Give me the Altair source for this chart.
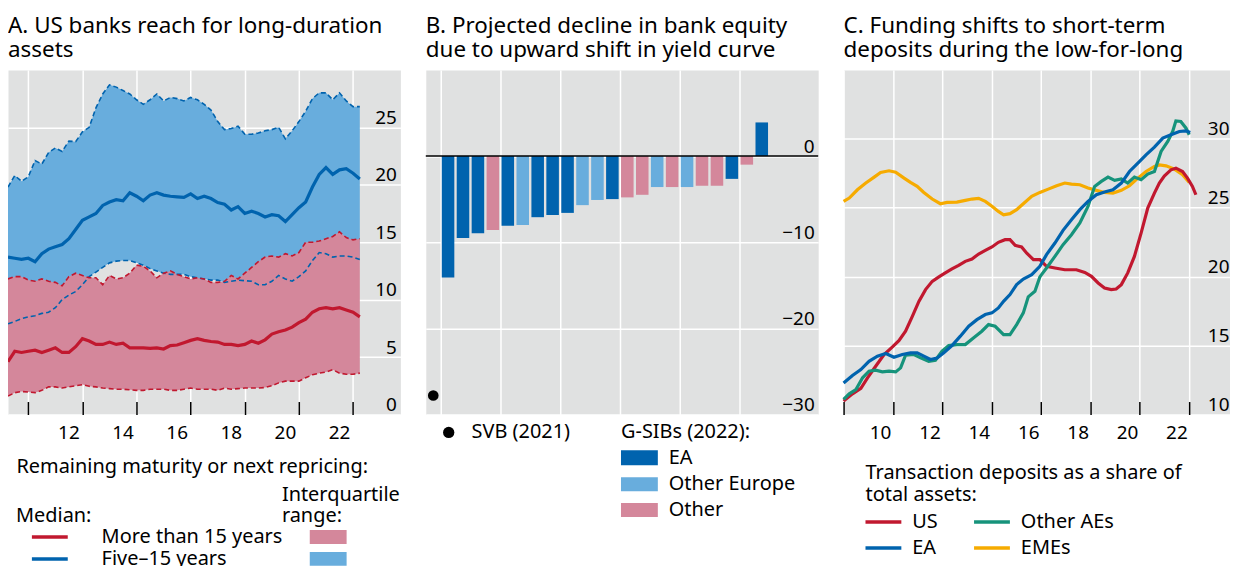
import altair as alt
import pandas as pd

FONT = "Noto Sans"
BG = "#e0e1e1"
DARK_BLUE = "#0063ae"
LIGHT_BLUE = "#68addd"
RED = "#c1182f"
PINK = "#d4879b"
TEAL = "#16937b"
ORANGE = "#f6ab00"

# ---------------- Panel A data (quarterly, 2010Q2-2023Q2) ----------------
a_quarters = [2010.25 + 0.25 * k for k in range(53)]
a_mid_hi = [19.8, 20.8, 20.3, 20.7, 22.1, 21.8, 22.8, 23.2, 22.9, 23.8, 23.75, 24.6, 25.0, 26.7, 27.9, 28.7,
            28.5, 28.2, 27.9, 27.4, 27.0, 27.4, 27.9, 27.3, 27.6, 27.5, 27.3, 27.6, 27.4, 27.0, 26.5, 25.5,
            24.8, 24.9, 25.1, 24.4, 24.4, 24.5, 24.7, 24.8, 25.0, 24.0, 24.7, 25.5, 26.4, 27.5, 28.0, 28.0,
            27.4, 28.0, 27.3, 26.8, 26.8]
a_mid_lo = [7.9, 8.1, 8.35, 8.5, 8.6, 8.8, 8.9, 9.3, 10.0, 10.4, 10.7, 11.3, 12.0, 12.4, 12.8, 13.2,
            13.35, 13.4, 13.4, 13.2, 13.0, 12.7, 12.5, 12.3, 12.2, 12.2, 12.2, 12.0, 11.9, 11.8, 11.7, 11.7,
            11.5, 11.6, 11.7, 11.65, 11.6, 11.3, 11.3, 11.6, 12.1, 11.8, 11.6, 12.0, 12.5, 13.4, 14.1, 14.0,
            13.7, 13.8, 13.8, 13.7, 13.5]
a_mid_med = [13.7, 13.6, 13.5, 13.6, 13.3, 14.0, 14.4, 14.6, 14.8, 15.3, 16.1, 16.9, 17.2, 17.5, 18.2, 18.5,
             18.7, 18.6, 19.3, 19.0, 18.6, 19.1, 19.3, 19.1, 19.0, 18.95, 18.9, 19.2, 18.8, 19.0, 18.8, 18.45,
             18.3, 17.8, 18.1, 17.5, 17.7, 17.5, 17.2, 17.4, 17.3, 16.8, 17.4, 18.0, 18.5, 19.8, 20.9, 21.5,
             20.9, 21.3, 21.4, 21.0, 20.5]
a_long_hi = [11.8, 12.0, 12.0, 11.7, 11.6, 11.8, 11.6, 11.5, 11.2, 12.0, 12.3, 12.1, 11.9, 11.9, 11.3, 12.1,
             11.8, 11.9, 12.3, 13.0, 12.9, 12.5, 11.9, 12.3, 12.5, 12.2, 12.0, 11.8, 11.9, 11.8, 11.5, 11.5,
             11.6, 12.1, 11.8, 12.3, 12.8, 13.3, 13.7, 13.8, 13.7, 14.0, 13.8, 14.1, 15.0, 15.0, 15.1, 15.3,
             15.5, 15.9, 15.4, 15.2, 15.3]
a_long_lo = [1.6, 1.9, 2.0, 1.95, 1.9, 2.1, 2.4, 2.4, 2.3, 2.4, 2.5, 2.6, 2.45, 2.4, 2.3, 2.25,
             2.2, 2.2, 2.15, 2.1, 2.1, 2.2, 2.2, 2.2, 2.1, 2.1, 2.2, 2.3, 2.2, 2.2, 2.2, 2.1,
             2.3, 2.2, 2.25, 2.3, 2.3, 2.3, 2.35, 2.5, 2.75, 2.9, 2.9, 2.9, 3.2, 3.45, 3.6, 3.7,
             3.9, 3.6, 3.5, 3.5, 3.6]
a_long_med = [4.6, 5.5, 5.4, 5.5, 5.6, 5.4, 5.6, 5.8, 5.4, 5.4, 5.9, 6.6, 6.4, 6.1, 6.1, 6.3,
              6.1, 6.2, 5.8, 5.8, 5.8, 5.75, 5.8, 5.7, 6.0, 6.05, 6.25, 6.45, 6.6, 6.45, 6.35, 6.3,
              6.1, 6.1, 6.0, 6.1, 6.4, 6.2, 6.5, 7.0, 7.2, 7.35, 7.6, 8.0, 8.3, 8.9, 9.2, 9.3,
              9.2, 9.3, 9.1, 8.9, 8.5]
a_ticks = [0, 5, 10, 15, 20, 25]
a_label_years = [2012, 2014, 2016, 2018, 2020, 2022]

# ---------------- Panel B data ----------------
b_values = [-14.1, -9.5, -8.95, -8.6, -8.1, -8.0, -7.1, -6.85, -6.6, -5.7, -5.1, -5.0, -4.8, -4.5,
            -3.6, -3.6, -3.6, -3.45, -3.45, -2.65, -1.0, 3.9]
b_regions = ["EA", "EA", "EA", "Other", "EA", "Other Europe", "EA", "EA", "EA", "Other Europe",
             "Other Europe", "EA", "Other", "Other", "Other Europe", "Other", "Other Europe", "Other",
             "Other", "EA", "Other", "EA"]
b_region_names = ["EA", "Other Europe", "Other"]
b_svb = -27.8
b_ticks = [-30, -20, -10, 0]

# ---------------- Panel C data ----------------
c_us_t = [2009.00, 2009.36, 2009.70, 2009.97, 2010.30, 2010.64, 2010.98, 2011.24, 2011.51, 2011.78, 2012.05,
          2012.32, 2012.59, 2012.86, 2013.12, 2013.39, 2013.66, 2013.93, 2014.20, 2014.47, 2014.74, 2015.01,
          2015.27, 2015.54, 2015.74, 2015.95, 2016.21, 2016.42, 2016.69, 2016.95, 2017.22, 2017.56, 2017.96,
          2018.43, 2018.77, 2019.04, 2019.31, 2019.57, 2019.84, 2020.04, 2020.25, 2020.51, 2020.78, 2021.05,
          2021.32, 2021.59, 2021.79, 2021.99, 2022.26, 2022.46, 2022.73, 2022.93, 2023.13, 2023.27]
c_us = [10.97, 11.5, 11.9, 12.66, 13.5, 14.35, 14.9, 15.36, 16.04, 17.1, 18.2,
        19.06, 19.66, 19.98, 20.27, 20.56, 20.82, 21.11, 21.28, 21.64, 21.9, 22.15,
        22.49, 22.68, 22.68, 22.27, 22.15, 21.7, 21.23, 21.23, 20.75, 20.63, 20.5,
        20.5, 20.31, 20.02, 19.54, 19.18, 19.06, 19.1, 19.42, 20.27, 21.47, 23.16,
        24.98, 26.06, 26.79, 27.3, 27.75, 27.87, 27.63, 27.15, 26.55, 25.94]
c_ea_t = [2009.00, 2009.36, 2009.70, 2010.03, 2010.37, 2010.71, 2011.04, 2011.38, 2011.71, 2011.98, 2012.25,
          2012.52, 2012.79, 2013.06, 2013.39, 2013.73, 2014.07, 2014.40, 2014.74, 2015.01, 2015.27, 2015.48,
          2015.74, 2016.01, 2016.28, 2016.62, 2016.95, 2017.22, 2017.56, 2017.89, 2018.23, 2018.57, 2018.90,
          2019.24, 2019.57, 2019.91, 2020.25, 2020.58, 2020.92, 2021.25, 2021.59, 2021.93, 2022.26, 2022.60,
          2022.87, 2023.04]
c_ea = [12.29, 12.83, 13.26, 13.86, 14.23, 14.42, 14.15, 14.35, 14.47, 14.47, 14.23,
        13.99, 14.1, 14.47, 15.0, 15.68, 16.4, 16.88, 17.25, 17.37, 17.73, 18.21,
        18.7, 19.42, 19.83, 20.14, 20.75, 21.6, 22.44, 23.36, 24.13, 24.86, 25.46,
        25.94, 26.14, 26.3, 26.79, 27.63, 28.24, 28.84, 29.4, 30.05, 30.29, 30.53,
        30.58, 30.46]
c_ae_t = [2009.00, 2009.23, 2009.50, 2009.77, 2010.03, 2010.30, 2010.57, 2010.84, 2011.11, 2011.31, 2011.51,
          2011.85, 2012.12, 2012.45, 2012.72, 2012.99, 2013.26, 2013.59, 2013.93, 2014.27, 2014.60, 2014.87,
          2015.14, 2015.48, 2015.74, 2016.01, 2016.28, 2016.48, 2016.75, 2016.95, 2017.22, 2017.56, 2017.89,
          2018.23, 2018.57, 2018.90, 2019.17, 2019.44, 2019.71, 2019.98, 2020.25, 2020.51, 2020.78, 2021.05,
          2021.32, 2021.59, 2021.86, 2022.13, 2022.33, 2022.46, 2022.66, 2022.87, 2023.00]
c_ae = [11.09, 11.5, 11.81, 12.66, 13.14, 13.21, 13.09, 13.14, 13.09, 13.38, 14.3,
        14.35, 14.11, 13.86, 13.94, 14.59, 15.0, 15.07, 15.07, 15.56, 16.04, 16.52,
        16.4, 15.8, 15.8, 16.52, 17.37, 18.53, 18.94, 19.98, 20.63, 21.47, 22.32,
        23.04, 23.89, 25.1, 26.55, 26.91, 27.22, 26.98, 27.08, 26.79, 27.22, 27.03,
        27.44, 27.63, 29.08, 29.81, 30.53, 31.3, 31.26, 30.77, 30.29]
c_eme_t = [2009.00, 2009.23, 2009.56, 2009.90, 2010.24, 2010.50, 2010.84, 2011.11, 2011.45, 2011.71, 2011.98,
           2012.25, 2012.59, 2012.92, 2013.19, 2013.59, 2013.93, 2014.20, 2014.47, 2014.74, 2015.01, 2015.27,
           2015.48, 2015.74, 2016.01, 2016.28, 2016.62, 2016.95, 2017.29, 2017.63, 2017.96, 2018.23, 2018.57,
           2018.90, 2019.24, 2019.57, 2019.91, 2020.25, 2020.58, 2020.92, 2021.25, 2021.59, 2021.79, 2022.06,
           2022.40, 2022.73, 2023.00]
c_eme = [25.46, 25.7, 26.3, 26.79, 27.22, 27.56, 27.68, 27.58, 27.15, 26.84, 26.55,
         26.11, 25.63, 25.29, 25.39, 25.41, 25.53, 25.63, 25.68, 25.46, 25.1, 24.73,
         24.49, 24.57, 24.86, 25.29, 25.82, 26.11, 26.35, 26.59, 26.79, 26.71, 26.67,
         26.43, 26.26, 26.11, 26.06, 26.26, 26.59, 27.15, 27.63, 28.0, 28.1, 28.04,
         27.8, 27.39, 26.84]
c_ticks = [10, 15, 20, 25, 30]
c_label_years = [2010, 2012, 2014, 2016, 2018, 2020, 2022]

# ---------------- Layout constants ----------------
H = 346
W_A, W_B, W_C = 394, 394, 389
LABEL_SIZE = 19
LEGEND_SIZE = 20
TITLE_SIZE = 22.5
ONE = pd.DataFrame({"k": [0]})


def year_axis(first, last):
    return alt.Axis(
        values=list(range(first, last + 1)), labels=False,
        tickSize=13, tickColor="black", tickWidth=1.5, offset=-13, domain=False,
        minExtent=0, maxExtent=0,
        grid=True, gridWidth=1.5,
        gridColor={"condition": {"test": "datum.value % 2 == 1", "value": "white"}, "value": "transparent"},
        title=None)


def year_labels(years):
    df = pd.DataFrame({"pos": [y + 0.5 for y in years], "lab": [str(y)[2:] for y in years]})
    return alt.Chart(df).mark_text(font=FONT, fontSize=LABEL_SIZE, color="black", baseline="middle",
                                   align="center").encode(
        x=alt.X("pos:Q", title=None), y=alt.value(365), text="lab:N")


def value_axis(vals, pad=-4):
    return alt.Axis(
        orient="right", values=vals, labelAlign="right", labelBaseline="bottom",
        labelPadding=pad, ticks=False, tickSize=0, domain=False, grid=True,
        minExtent=0, maxExtent=0,
        gridColor="white", gridWidth=1.5, labelFont=FONT, labelFontSize=LABEL_SIZE,
        labelColor="black", labelFlush=False, labelOverlap=False, labelBound=False, title=None)


def txt(s, x, y, size=LEGEND_SIZE):
    return alt.Chart(ONE).mark_text(text=s, align="left", baseline="middle", font=FONT,
                                    fontSize=size, color="black").encode(x=alt.value(x), y=alt.value(y))


def hline(x1, x2, y, color, width=3.5):
    return alt.Chart(ONE).mark_rule(color=color, strokeWidth=width).encode(
        x=alt.value(x1), x2=alt.value(x2), y=alt.value(y))


def swatch(x1, x2, y1, y2, color):
    return alt.Chart(ONE).mark_rect(color=color).encode(
        x=alt.value(x1), x2=alt.value(x2), y=alt.value(y1), y2=alt.value(y2))


def title(lines):
    return alt.TitleParams(text=lines, anchor="start", font=FONT, fontSize=TITLE_SIZE, fontWeight="normal",
                           color="black", lineHeight=25, offset=8, frame="group")


# ---------------- Panel A ----------------
dfA = pd.DataFrame({"t": a_quarters, "mid_hi": a_mid_hi, "mid_lo": a_mid_lo, "mid_med": a_mid_med,
                    "long_hi": a_long_hi, "long_lo": a_long_lo, "long_med": a_long_med})
baseA = alt.Chart(dfA)
xA = alt.X("t:Q", scale=alt.Scale(domain=[2010.25, 2024.75], nice=False, zero=False),
           axis=year_axis(2011, 2023))
yA = alt.Y("mid_hi:Q", scale=alt.Scale(domain=[0, 30], nice=False), axis=value_axis(a_ticks))

bandMid = baseA.mark_area(color=LIGHT_BLUE, opacity=1).encode(x=xA, y=yA, y2="mid_lo:Q")
bandLong = baseA.mark_area(color=PINK, opacity=1).encode(
    x=alt.X("t:Q", title=None), y=alt.Y("long_hi:Q", title=None), y2="long_lo:Q")


def dashed(col, color):
    return baseA.mark_line(color=color, strokeWidth=1.6, strokeDash=[5, 3]).encode(
        x=alt.X("t:Q", title=None), y=alt.Y(f"{col}:Q", title=None))


def solid(col, color):
    return baseA.mark_line(color=color, strokeWidth=3.2).encode(
        x=alt.X("t:Q", title=None), y=alt.Y(f"{col}:Q", title=None))


panelA = alt.layer(
    bandMid, bandLong,
    dashed("mid_hi", DARK_BLUE), dashed("mid_lo", DARK_BLUE),
    dashed("long_hi", RED), dashed("long_lo", RED),
    solid("long_med", RED), solid("mid_med", DARK_BLUE),
    year_labels(a_label_years),
    txt("Remaining maturity or next repricing:", 8.5, 399),
    txt("Interquartile", 275, 427), txt("range:", 275, 448), txt("Median:", 8, 448),
    hline(24, 60, 469, RED), txt("More than 15 years", 94, 469),
    swatch(303, 340, 462, 476, PINK),
    hline(24, 60, 491, DARK_BLUE), txt("Five\u201315 years", 94, 491),
    swatch(303, 340, 484, 498, LIGHT_BLUE),
).properties(width=W_A, height=H, title=title(["A. US banks reach for long-duration", "assets"]))

# ---------------- Panel B ----------------
dfB = pd.DataFrame({"slot": list(range(1, len(b_values) + 1)), "value": b_values, "region": b_regions})
dfB["left"] = dfB["slot"] + 0.07
dfB["right"] = dfB["slot"] + 0.91
xScaleB = alt.Scale(domain=[0, W_B / 15], nice=False, zero=False)
xAxisB = alt.Axis(values=list(range(1, len(b_values) + 2)), labels=False, ticks=False, domain=False,
                  minExtent=0, maxExtent=0,
                  grid=True, gridColor="white", gridWidth=1.5, title=None)
bars = alt.Chart(dfB).mark_rect().encode(
    x=alt.X("left:Q", scale=xScaleB, axis=xAxisB),
    x2="right:Q",
    y=alt.Y("value:Q", scale=alt.Scale(domain=[-30, 10], nice=False), axis=value_axis(b_ticks)),
    y2=alt.datum(0),
    color=alt.Color("region:N", scale=alt.Scale(domain=b_region_names, range=[DARK_BLUE, LIGHT_BLUE, PINK]),
                    legend=None),
)
svb = alt.Chart(pd.DataFrame({"slot": [0.5], "value": [b_svb]})).mark_point(
    filled=True, color="black", size=115, opacity=1).encode(
    x=alt.X("slot:Q", title=None), y=alt.Y("value:Q", title=None))
zero = alt.Chart(ONE).mark_rule(color="black", strokeWidth=1.5).encode(y=alt.datum(0))

panelB = alt.layer(
    bars, zero, svb,
    alt.Chart(ONE).mark_point(filled=True, color="black", size=130, opacity=1).encode(
        x=alt.value(23), y=alt.value(364)),
    txt("SVB (2021)", 46, 364),
    txt("G-SIBs (2022):", 196, 364),
    swatch(196, 233, 382, 397, DARK_BLUE), txt("EA", 244, 390),
    swatch(196, 233, 409, 423, LIGHT_BLUE), txt("Other Europe", 244, 416),
    swatch(196, 233, 435, 449, PINK), txt("Other", 244, 442),
).properties(width=W_B, height=H,
             title=title(["B. Projected decline in bank equity", "due to upward shift in yield curve"]))

# ---------------- Panel C ----------------
xC_scale = alt.Scale(domain=[2009, 2009 + W_C / 24.79], nice=False, zero=False)
yC_scale = alt.Scale(domain=[10, 35], nice=False)


def cline(ts, vals, color, first=False):
    df = pd.DataFrame({"t": ts, "v": vals})
    if first:
        enc = dict(x=alt.X("t:Q", scale=xC_scale, axis=year_axis(2009, 2023)),
                   y=alt.Y("v:Q", scale=yC_scale, axis=value_axis(c_ticks, pad=-2)))
    else:
        enc = dict(x=alt.X("t:Q", title=None), y=alt.Y("v:Q", title=None))
    return alt.Chart(df).mark_line(color=color, strokeWidth=3.2).encode(**enc)


panelC = alt.layer(
    cline(c_eme_t, c_eme, ORANGE, first=True),
    cline(c_us_t, c_us, RED),
    cline(c_ae_t, c_ae, TEAL),
    cline(c_ea_t, c_ea, DARK_BLUE),
    year_labels(c_label_years),
    txt("Transaction deposits as a share of", 22, 405),
    txt("total assets:", 22, 427),
    hline(22, 58, 454, RED), txt("US", 69, 454),
    hline(22, 58, 480, DARK_BLUE), txt("EA", 69, 480),
    hline(131, 167, 454, TEAL), txt("Other AEs", 178, 454),
    hline(131, 167, 480, ORANGE), txt("EMEs", 178, 480),
).properties(width=W_C, height=H,
             title=title(["C. Funding shifts to short-term", "deposits during the low-for-long"]))

# Vega pads the view for invisible bounds (line miter allowance on the left of panel A,
# grid stroke allowance on the right of panel C); small negative paddings trim that
# slack so the page fits the 1238x584 window exactly.
chart = alt.hconcat(panelA, panelB, panelC, spacing=25.5, bounds="flush").properties(
    padding={"left": -7, "right": -2, "top": 5, "bottom": -5}
).configure(font=FONT).configure_view(fill=BG, stroke="transparent")

chart.save("out.html", embed_options={"renderer": "svg", "actions": False})
